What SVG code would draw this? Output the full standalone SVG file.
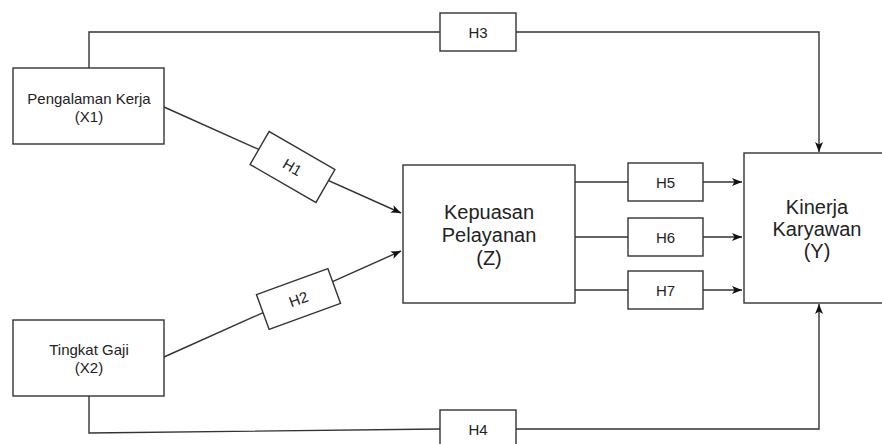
<svg xmlns="http://www.w3.org/2000/svg" width="882" height="444" viewBox="0 0 882 444">
<defs>
<style>
.box{fill:#fff;stroke:#333;stroke-width:1.4}
.ln{fill:none;stroke:#333;stroke-width:1.4}
.t{font-family:"Liberation Sans",Arial,sans-serif;fill:#222;text-anchor:middle}
.s{font-size:15px}
.b{font-size:20px}
</style>
<marker id="arr" markerWidth="12" markerHeight="10" refX="11" refY="5" orient="auto" markerUnits="userSpaceOnUse">
<path d="M1,1 L11,5 L1,9 L3.5,5 Z" fill="#111"/>
</marker>
</defs>
<rect width="882" height="444" fill="#fff"/>
<g id="connectors">
<path class="ln" d="M89,68 V32 H819 V152" marker-end="url(#arr)"/>
<path class="ln" d="M89,396 V433 L440,429 H819 V304" marker-end="url(#arr)"/>
<path class="ln" d="M164,107 L401,213" marker-end="url(#arr)"/>
<path class="ln" d="M164,357 L401,251" marker-end="url(#arr)"/>
<path class="ln" d="M575,182 H628 M703,182 H742" marker-end="url(#arr)"/>
<path class="ln" d="M575,237 H628 M703,237 H742" marker-end="url(#arr)"/>
<path class="ln" d="M575,290 H628 M703,290 H742" marker-end="url(#arr)"/>
</g>
<g id="x1">
<rect class="box" x="13" y="68" width="151" height="76"/>
<text class="t s" x="89" y="103.5">Pengalaman Kerja</text>
<text class="t s" x="89" y="121.5">(X1)</text>
</g>
<g id="x2">
<rect class="box" x="13" y="320" width="151" height="76"/>
<text class="t s" x="89" y="355">Tingkat Gaji</text>
<text class="t s" x="89" y="373">(X2)</text>
</g>
<g id="z">
<rect class="box" x="403" y="165" width="172" height="138"/>
<text class="t b" x="489" y="219">Kepuasan</text>
<text class="t b" x="489" y="242">Pelayanan</text>
<text class="t b" x="489" y="265">(Z)</text>
</g>
<g id="y">
<rect class="box" x="744" y="153" width="150" height="150"/>
<text class="t b" x="817" y="214">Kinerja</text>
<text class="t b" x="817" y="236">Karyawan</text>
<text class="t b" x="817" y="258">(Y)</text>
</g>
<g id="h1" transform="translate(292.5,167) rotate(30)">
<rect class="box" x="-38" y="-19" width="76" height="38"/>
<text class="t s" x="0" y="5.5">H1</text>
</g>
<g id="h2" transform="translate(298.5,299) rotate(-20)">
<rect class="box" x="-38" y="-18.5" width="76" height="37"/>
<text class="t s" x="0" y="5.5">H2</text>
</g>
<g id="h3">
<rect class="box" x="440" y="13" width="76" height="38"/>
<text class="t s" x="478" y="37.5">H3</text>
</g>
<g id="h4">
<rect class="box" x="440" y="410" width="76" height="38"/>
<text class="t s" x="478" y="434.5">H4</text>
</g>
<g id="h5">
<rect class="box" x="628" y="163" width="75" height="38"/>
<text class="t s" x="665.5" y="187.5">H5</text>
</g>
<g id="h6">
<rect class="box" x="628" y="218" width="75" height="38"/>
<text class="t s" x="665.5" y="242.5">H6</text>
</g>
<g id="h7">
<rect class="box" x="628" y="271" width="75" height="38"/>
<text class="t s" x="665.5" y="295.5">H7</text>
</g>
</svg>
